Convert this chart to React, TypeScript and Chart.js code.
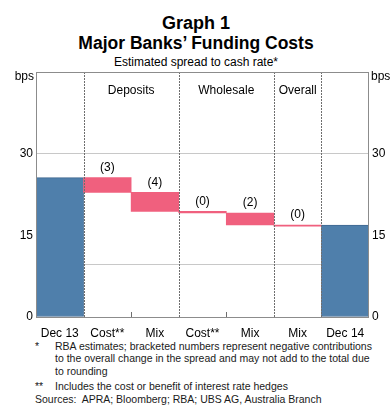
import React, { useEffect, useRef } from "react";
import { Chart, registerables } from "chart.js";
Chart.register(...registerables);

const categories = ["Dec 13", "Cost**", "Mix", "Cost**", "Mix", "Mix", "Dec 14"];
const barLows = [0, 22.9, 19.4, 19.1, 16.9, 16.7, 0];
const barHighs = [25.6, 25.6, 22.9, 19.4, 19.1, 16.9, 16.9];
const valueLabels = ["", "(3)", "(4)", "(0)", "(2)", "(0)", ""];
const groupLabels = ["Deposits", "Wholesale", "Overall"];
const groupStart = [1, 3, 5];
const groupEnd = [2, 4, 5];
const separatorsAfter = [0, 2, 4, 5];
const minorTicksAfter = [1, 3];
const yTicks = [0, 15, 30, 45];
const extraLineValue = 9.8;

const FONT = "'Liberation Sans', Arial, sans-serif";
const BLUE = "#4f7fab";
const PINK = "#f0607e";

export default function App() {
  const ref = useRef<HTMLCanvasElement | null>(null);

  useEffect(() => {
    if (!ref.current) return;
    const isTotal = (i: number) => i === 0 || i === categories.length - 1;

    const overlay = {
      id: "overlay",
      beforeDatasetsDraw(chart: any) {
        const { ctx, chartArea } = chart;
        const y = chart.scales.y.getPixelForValue(extraLineValue);
        ctx.save();
        ctx.strokeStyle = "#c8c8c8";
        ctx.lineWidth = 1;
        ctx.beginPath();
        ctx.moveTo(chartArea.left, Math.round(y) + 0.5);
        ctx.lineTo(chartArea.right, Math.round(y) + 0.5);
        ctx.stroke();
        ctx.restore();
      },
      afterDatasetsDraw(chart: any) {
        const { ctx, chartArea } = chart;
        const xs = chart.scales.x;
        const meta = chart.getDatasetMeta(0);
        const half = (xs.getPixelForValue(1) - xs.getPixelForValue(0)) / 2;
        ctx.save();
        ctx.strokeStyle = "#6e6e6e";
        ctx.lineWidth = 1;
        ctx.setLineDash([2, 1]);
        separatorsAfter.forEach((i) => {
          const x = Math.round(xs.getPixelForValue(i) + half) + 0.5;
          ctx.beginPath();
          ctx.moveTo(x, chartArea.top);
          ctx.lineTo(x, chartArea.bottom);
          ctx.stroke();
        });
        ctx.setLineDash([]);
        minorTicksAfter.forEach((i) => {
          const x = Math.round(xs.getPixelForValue(i) + half) + 0.5;
          ctx.beginPath();
          ctx.moveTo(x, chartArea.bottom);
          ctx.lineTo(x, chartArea.bottom - 5);
          ctx.stroke();
        });
        ctx.strokeStyle = "#8c8c8c";
        ctx.strokeRect(
          Math.round(chartArea.left) + 0.5,
          Math.round(chartArea.top) + 0.5,
          Math.round(chartArea.right - chartArea.left) - 1,
          Math.round(chartArea.bottom - chartArea.top)
        );
        ctx.fillStyle = "#000";
        ctx.font = `12px ${FONT}`;
        ctx.textAlign = "center";
        ctx.textBaseline = "middle";
        meta.data.forEach((el: any, i: number) => {
          if (!valueLabels[i]) return;
          const top = Math.min(el.y, el.base);
          ctx.fillText(valueLabels[i], el.x, top - 10);
        });
        groupLabels.forEach((g, k) => {
          const x = (xs.getPixelForValue(groupStart[k]) + xs.getPixelForValue(groupEnd[k])) / 2;
          ctx.fillText(g, x, 91);
        });
        ctx.textAlign = "right";
        ctx.fillText("bps", chartArea.left - 2, 77);
        ctx.textAlign = "left";
        ctx.fillText("bps", chartArea.right + 2, 77);
        ctx.restore();
      },
    };

    const chart = new Chart(ref.current, {
      type: "bar",
      data: {
        labels: categories,
        datasets: [
          {
            data: categories.map((_, i) =>
              isTotal(i) ? barHighs[i] : [barLows[i], barHighs[i]]
            ) as any,
            backgroundColor: categories.map((_, i) => (isTotal(i) ? BLUE : PINK)),
            borderColor: categories.map((_, i) => (isTotal(i) ? "#3f6790" : PINK)),
            borderWidth: categories.map((_, i) => (isTotal(i) ? 1 : 0)),
            borderSkipped: false,
            barPercentage: 1,
            categoryPercentage: 1,
          },
        ],
      },
      options: {
        responsive: false,
        animation: false,
        devicePixelRatio: 1,
        layout: { padding: { top: 72, left: 0, right: 0, bottom: 0 } },
        plugins: { legend: { display: false }, tooltip: { enabled: false }, title: { display: false } },
        scales: {
          x: {
            grid: { display: false },
            border: { display: false },
            ticks: { color: "#000", font: { family: FONT, size: 12 }, padding: 1, maxRotation: 0, autoSkip: false },
            afterFit(scale: any) {
              scale.height = 23;
            },
          },
          y: {
            position: "left",
            min: 0,
            max: 45,
            afterBuildTicks(scale: any) {
              scale.ticks = yTicks.map((v) => ({ value: v }));
            },
            ticks: {
              color: "#000",
              font: { family: FONT, size: 12 },
              padding: 3,
              callback: (v: any) => (v === 45 ? "" : String(v)),
            },
            grid: {
              drawTicks: false,
              color: (c: any) => (c.tick && c.tick.value === 30 ? "#c8c8c8" : "rgba(0,0,0,0)"),
            },
            border: { display: false },
            afterFit(scale: any) {
              scale.width = 36;
            },
          },
          y2: {
            position: "right",
            min: 0,
            max: 45,
            afterBuildTicks(scale: any) {
              scale.ticks = yTicks.map((v) => ({ value: v }));
            },
            ticks: {
              color: "#000",
              font: { family: FONT, size: 12 },
              padding: 3,
              callback: (v: any) => (v === 45 ? "" : String(v)),
            },
            grid: { display: false, drawTicks: false },
            border: { display: false },
            afterFit(scale: any) {
              scale.width = 23;
            },
          },
        },
      },
      plugins: [overlay],
    });
    return () => chart.destroy();
  }, []);

  const textStyle: React.CSSProperties = {
    position: "absolute",
    fontFamily: FONT,
    color: "#1a1a1a",
    whiteSpace: "pre",
  };

  return (
    <div style={{ position: "absolute", left: 0, top: 0, width: 392, height: 416, background: "#fff" }}>
      <div style={{ ...textStyle, left: 0, width: 392, top: 12.8, textAlign: "center", fontWeight: "bold", fontSize: 18, lineHeight: "20px", color: "#000" }}>
        Graph 1
      </div>
      <div style={{ ...textStyle, left: 0, width: 392, top: 33.4, textAlign: "center", fontWeight: "bold", fontSize: 17.5, lineHeight: "20px", color: "#000" }}>
        Major Banks’ Funding Costs
      </div>
      <div style={{ ...textStyle, left: 0, width: 392, top: 55.3, textAlign: "center", fontSize: 12, lineHeight: "14px", color: "#000" }}>
        Estimated spread to cash rate*
      </div>
      <canvas ref={ref} width={392} height={340} style={{ position: "absolute", left: 0, top: 0, display: "block" }} />
      <div style={{ ...textStyle, left: 35, top: 340, fontSize: 10.5, lineHeight: "12.4px" }}>*</div>
      <div style={{ ...textStyle, left: 55, top: 340, fontSize: 10.5, lineHeight: "12.4px" }}>
        {"RBA estimates; bracketed numbers represent negative contributions\nto the overall change in the spread and may not add to the total due\nto rounding"}
      </div>
      <div style={{ ...textStyle, left: 35, top: 379.5, fontSize: 10.5, lineHeight: "12.4px" }}>**</div>
      <div style={{ ...textStyle, left: 55, top: 379.5, fontSize: 10.5, lineHeight: "12.4px" }}>
        Includes the cost or benefit of interest rate hedges
      </div>
      <div style={{ ...textStyle, left: 35, top: 393, fontSize: 10.5, lineHeight: "12.4px" }}>
        {"Sources:  APRA; Bloomberg; RBA; UBS AG, Australia Branch"}
      </div>
    </div>
  );
}
